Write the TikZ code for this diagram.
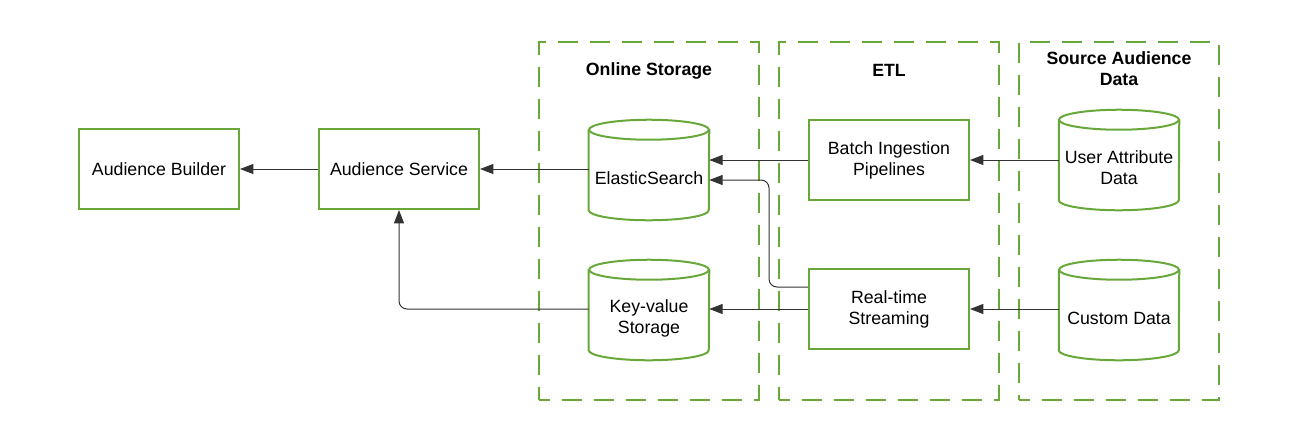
\documentclass[tikz,border=0pt]{standalone}
\usepackage{fontspec}
\setmainfont{Liberation Sans}
\usetikzlibrary{arrows.meta,calc}
\definecolor{grn}{HTML}{68A83A}
\definecolor{ink}{HTML}{333333}
\newcommand\fs{\fontsize{13.3}{15.8}\selectfont}
\newcommand\drawcyl[1]{%
  \draw[cylline] ([yshift=2.25pt]#1.north) ellipse[x radius=45pt,y radius=7.5pt];
  \draw[cylline] ([yshift=2.25pt]#1.north west) -- ([yshift=9.75pt]#1.south west)
    arc[start angle=180,end angle=360,x radius=45pt,y radius=7.5pt] -- ([yshift=2.25pt]#1.north east);}
\begin{document}
\begin{tikzpicture}[x=0.75pt,y=-0.75pt,
  box/.style={draw=grn,line width=1.5pt,minimum width=120pt,minimum height=60pt,inner sep=0pt,align=center,font=\fs},
  cylbody/.style={minimum width=90pt,minimum height=67.5pt,inner sep=0pt,align=center,font=\fs},
  cylline/.style={draw=grn,line width=1.5pt},
  frame/.style={draw=grn,line width=1.5pt,dash pattern=on 15pt off 9pt,dash phase=7pt,minimum width=165pt,minimum height=268.5pt,inner sep=0pt},
  ttl/.style={font=\fs\bfseries,align=center,inner sep=0pt},
  conn/.style={draw=ink,line width=0.75pt,-{Triangle[length=10pt,width=7.5pt]}}]
\useasboundingbox (0,0) rectangle (1298,440);
% frames
\node[frame] (osf) at (649,221) {};
\node[frame] (etlf) at (889,221) {};
\node[frame,minimum width=150pt] (srcf) at (1119,221) {};
\node[ttl] (ost) at (649,70.5) {Online Storage};
\node[ttl] (etlt) at (889,70.5) {ETL};
\node[ttl] (srct) at (1119,68.5) {Source Audience\\Data};
% boxes
\node[box] (ab) at (159,169) {Audience Builder};
\node[box] (as) at (399,169) {Audience Service};
\node[box] (bi) at (889,160) {Batch Ingestion\\Pipelines};
\node[box] (rt) at (889,309) {Real-time\\Streaming};
% cylinders
\node[cylbody] (es) at (649,178) {ElasticSearch};
\node[cylbody] (kv) at (649,318) {Key-value\\Storage};
\node[cylbody] (ua) at (1119,168) {User Attribute\\Data};
\node[cylbody] (cd) at (1119,318) {Custom Data};
\drawcyl{es}
\drawcyl{kv}
\drawcyl{ua}
\drawcyl{cd}
% connectors
\draw[conn] (as.west) -- (ab.east);
\draw[conn] (es.west |- as.east) -- (as.east);
\draw[conn] (bi.west) -- (bi.west -| es.east);
\draw[conn] (ua.west |- bi.east) -- (bi.east);
\draw[conn] (rt.west) -- (rt.west -| kv.east);
\draw[conn] (cd.west |- rt.east) -- (rt.east);
\draw[conn,rounded corners=6pt] (kv.west |- rt.west) -| (as.south);
\coordinate (bend) at (769,180);
\draw[conn,rounded corners=6pt] ([yshift=-14.25pt]rt.north west) -| (bend) -- (bend -| es.east);
\end{tikzpicture}
\end{document}
